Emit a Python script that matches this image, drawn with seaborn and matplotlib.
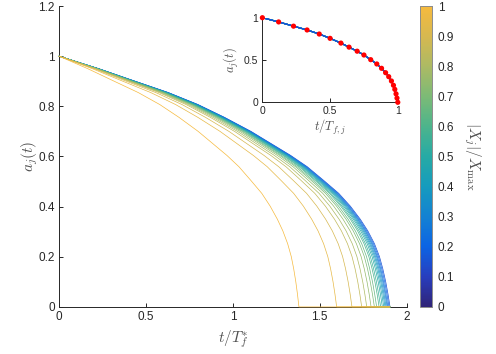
import matplotlib
matplotlib.use("Agg")

import matplotlib.pyplot as plt
import pandas as pd
import seaborn as sns
from matplotlib.cm import ScalarMappable
from matplotlib.colors import LinearSegmentedColormap, Normalize

# |X_j|/X_max of each curve
x_ratio = [1.0, 0.95, 0.9, 0.85, 0.8, 0.75, 0.7, 0.65, 0.6, 0.55,
           0.5, 0.45, 0.4, 0.35, 0.3, 0.25, 0.2, 0.15]
# collapse time T_{f,j} / T_f^* of each curve
t_collapse = [1.38, 1.597, 1.685, 1.741, 1.770, 1.795, 1.814, 1.827, 1.841,
              1.850, 1.860, 1.868, 1.875, 1.881, 1.887, 1.892, 1.898, 1.904]
t_end = 1.904

# collapsed profile a_j against t/T_{f,j} (red dots of the inset)
profile_s = [0.0, 0.12, 0.23, 0.33, 0.42, 0.50, 0.58, 0.64, 0.70, 0.75, 0.80,
             0.845, 0.88, 0.91, 0.933, 0.953, 0.968, 0.978, 0.987, 0.994, 1.0]
profile_a = [1.0, 0.95, 0.90, 0.855, 0.807, 0.756, 0.700, 0.652, 0.604, 0.559,
             0.504, 0.453, 0.402, 0.350, 0.303, 0.252, 0.201, 0.153, 0.100,
             0.050, 0.0]

main_xticks = [0, 0.5, 1, 1.5, 2]
main_xticklabels = ["0", "0.5", "1", "1.5", "2"]
main_yticks = [0, 0.2, 0.4, 0.6, 0.8, 1.0, 1.2]
main_yticklabels = ["0", "0.2", "0.4", "0.6", "0.8", "1", "1.2"]
inset_ticks = [0, 0.5, 1]
inset_ticklabels = ["0", "0.5", "1"]
cbar_ticks = [0, 0.1, 0.2, 0.3, 0.4, 0.5, 0.6, 0.7, 0.8, 0.9, 1.0]
cbar_ticklabels = ["0", "0.1", "0.2", "0.3", "0.4", "0.5", "0.6", "0.7",
                   "0.8", "0.9", "1"]

# parula-like colours as they appear in the colour bar
cmap_colors = ["#302478", "#283ebe", "#0c64e4", "#1482d2", "#169bbe",
               "#26aaa5", "#4cb48c", "#7cba76", "#acba64", "#d6b850",
               "#f6ba3e"]
parula = LinearSegmentedColormap.from_list("parula_like", cmap_colors)
norm = Normalize(0, 1)

TEXT = "#262626"
LABEL = "#505050"

sns.set_style("ticks")
plt.rcParams["font.family"] = ["Liberation Sans", "DejaVu Sans"]
plt.rcParams["mathtext.fontset"] = "cm"


def build_main_frame() -> pd.DataFrame:
    rows = []
    for x, tf in zip(x_ratio, t_collapse):
        for s, a in zip(profile_s, profile_a):
            rows.append({"t": s * tf, "a": a, "X": x})
        rows.append({"t": t_end, "a": 0.0, "X": x})
    return pd.DataFrame(rows)


def build_inset_frame() -> pd.DataFrame:
    rows = []
    for x in x_ratio:
        for s, a in zip(profile_s, profile_a):
            rows.append({"s": s, "a": a, "X": x})
    return pd.DataFrame(rows)


def style_axes(ax, size):
    for side in ("top", "right"):
        ax.spines[side].set_visible(False)
    for side in ("left", "bottom"):
        ax.spines[side].set_color(TEXT)
        ax.spines[side].set_linewidth(0.7)
    ax.tick_params(direction="in", length=3, width=0.7, colors=TEXT,
                   labelsize=size, pad=3)


fig = plt.figure(figsize=(4.96, 3.54), dpi=100)
ax = fig.add_axes([0.119, 0.133, 0.701, 0.850])

main_df = build_main_frame()
sns.lineplot(data=main_df, x="t", y="a", hue="X", palette=parula,
             hue_norm=norm, estimator=None, sort=False, legend=False,
             linewidth=0.5, ax=ax)
for line in ax.lines:
    line.set_zorder(3)
    line.set_clip_on(False)

ax.set_xlim(0, 2)
ax.set_ylim(0, 1.2)
ax.set_xticks(main_xticks, main_xticklabels)
ax.set_yticks(main_yticks, main_yticklabels)
style_axes(ax, 8.5)
ax.set_xlabel(r"$t/T_f^{*}$", fontsize=11, color=LABEL, labelpad=4)
ax.set_ylabel(r"$a_j(t)$", fontsize=11, color=LABEL, labelpad=-1)

# inset: curves against their own collapse time
ins = fig.add_axes([0.529, 0.711, 0.273, 0.239])
inset_df = build_inset_frame()
sns.lineplot(data=inset_df, x="s", y="a", hue="X", palette=parula,
             hue_norm=norm, estimator=None, sort=False, legend=False,
             linewidth=0.8, ax=ins)
for line, x in zip(ins.lines, sorted(x_ratio)):
    line.set_zorder(3 + (1 - x))
sns.scatterplot(x=profile_s, y=profile_a, color="red", s=14,
                edgecolor="none", zorder=5, clip_on=False, ax=ins)
ins.set_xlim(0, 1)
ins.set_ylim(0, 1)
ins.set_xticks(inset_ticks, inset_ticklabels)
ins.set_yticks(inset_ticks, inset_ticklabels)
style_axes(ins, 7.5)
ins.set_xlabel(r"$t/T_{f,j}$", fontsize=9, color=LABEL, labelpad=1)
ins.set_ylabel(r"$a_j(t)$", fontsize=9, color=LABEL, labelpad=2)

# colour bar
cax = fig.add_axes([0.847, 0.133, 0.024, 0.850])
cbar = fig.colorbar(ScalarMappable(norm=norm, cmap=parula), cax=cax)
cbar.set_ticks(cbar_ticks, labels=cbar_ticklabels)
cbar.ax.tick_params(direction="in", length=3, width=0.7, colors=TEXT,
                    labelsize=8.5, pad=4)
cbar.outline.set_edgecolor("#8c8c8c")
cbar.outline.set_linewidth(0.7)
cbar.set_label(r"$|X_j|/X_{\max}$", fontsize=11, color=LABEL,
               rotation=270, va="bottom", labelpad=6)

fig.savefig("out.png", dpi=100)
